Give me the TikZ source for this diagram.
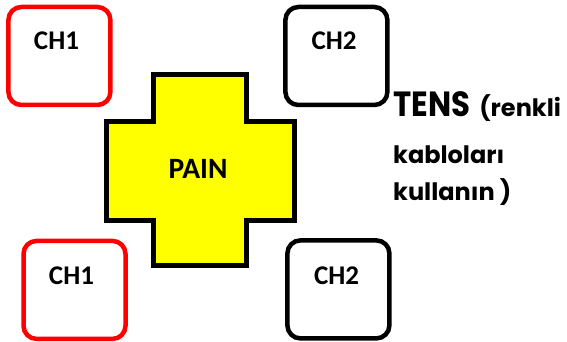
\documentclass[tikz,border=0pt]{standalone}
\usepackage{fontspec}
\usepackage{graphicx}
\setmainfont{Carlito}
\newfontfamily\tensfont{Poppins}
\begin{document}
\begin{tikzpicture}[x=1pt,y=-1pt,
  chbox/.style={draw, line width=4.5pt, rounded corners=13pt, minimum width=102pt, minimum height=98pt, inner sep=0pt},
  redbox/.style={chbox, draw=red},
  blackbox/.style={chbox, draw=black},
  chlabel/.style={anchor=base, inner sep=0pt, font=\fontsize{27}{30}\selectfont\bfseries},
  tensline/.style={anchor=base west, inner sep=0pt, font=\tensfont\fontsize{24}{28}\selectfont\bfseries}]
\useasboundingbox (0,0) rectangle (567,342);
% boxes
\node[redbox] (b1) at (59.4,56) {};
\node[blackbox] (b2) at (336.4,56) {};
\node[redbox] (b3) at (74.5,289.9) {};
\node[blackbox] (b4) at (338.4,289.4) {};
\node[chlabel] (l1) at (56.5,50) {CH1};
\node[chlabel] (l2) at (334,50) {CH2};
\node[chlabel] (l3) at (71.5,284.5) {CH1};
\node[chlabel] (l4) at (336.5,284.5) {CH2};
% cross
\draw[line width=5pt, fill={rgb,255:red,255;green,255;blue,0}, miter limit=10]
  (106.5,121.8) -- (153.2,121.8) -- (153.2,74.2) -- (246.5,74.2) -- (246.5,121.8)
  -- (294.2,121.8) -- (294.2,220.2) -- (246.5,220.2) -- (246.5,265.8) -- (153.2,265.8)
  -- (153.2,220.2) -- (106.5,220.2) -- cycle;
\node[anchor=base, inner sep=0pt, font=\fontsize{29.5}{32}\selectfont\bfseries] (pain) at (198,178) {PAIN};
% TENS text
\node[tensline] (t1) at (393,116.7) {{\fontsize{35}{40}\selectfont\scalebox{0.88}[1]{TENS}}\hspace{4pt} (renkli};
\node[tensline] (t2) at (393,163) {kabloları};
\node[tensline] (t3) at (393,200) {kullanın )};
\end{tikzpicture}
\end{document}
